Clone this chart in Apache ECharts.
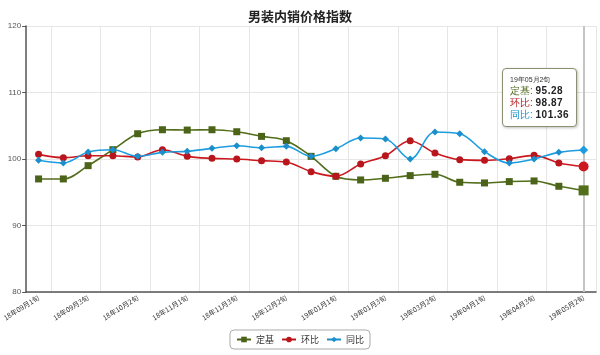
<!DOCTYPE html>
<html>
<head>
<meta charset="utf-8">
<script src="https://cdn.jsdelivr.net/npm/echarts@6/dist/echarts.min.js"></script>
<style>
  html, body { margin: 0; padding: 0; background: #fff; }
  #main { width: 600px; height: 355px; }
</style>
</head>
<body>
<div id="main"></div>
<script>
var categories = [
  '18年09月1旬', '18年09月2旬', '18年09月3旬', '18年10月1旬', '18年10月2旬', '18年10月3旬',
  '18年11月1旬', '18年11月2旬', '18年11月3旬', '18年12月1旬', '18年12月2旬', '18年12月3旬',
  '19年01月1旬', '19年01月2旬', '19年01月3旬', '19年03月1旬', '19年03月2旬', '19年03月3旬',
  '19年04月1旬', '19年04月2旬', '19年04月3旬', '19年05月1旬', '19年05月2旬'
];
var dingji = [97.0, 97.0, 99.0, 101.4, 103.8, 104.4, 104.35, 104.4, 104.1, 103.4, 102.75, 100.4,
  97.4, 96.85, 97.1, 97.5, 97.7, 96.5, 96.4, 96.6, 96.7, 95.9, 95.28];
var huanbi = [100.7, 100.2, 100.5, 100.5, 100.3, 101.4, 100.4, 100.1, 100.0, 99.75, 99.55, 98.1,
  97.4, 99.25, 100.5, 102.75, 100.9, 99.9, 99.8, 100.05, 100.55, 99.4, 98.87];
var tongbi = [99.8, 99.4, 101.05, 101.4, 100.4, 101.0, 101.15, 101.6, 102.0, 101.7, 101.9, 100.4,
  101.55, 103.15, 103.0, 100.0, 104.05, 103.8, 101.1, 99.4, 100.0, 101.0, 101.36];
var yTicks = [80, 90, 100, 110, 120];

var colors = ['#4b6419', '#b8161c', '#1b8fcb'];
var last = categories.length - 1;

var chart = echarts.init(document.getElementById('main'));

function mkSeries(name, data, symbol, size, bigSize, idx) {
  return {
    name: name,
    type: 'line',
    data: data,
    smooth: 0.35,
    symbol: symbol,
    symbolSize: function (v, p) { return p.dataIndex === last ? bigSize : size; },
    lineStyle: { width: 1.6, color: colors[idx] },
    itemStyle: { color: colors[idx] },
    emphasis: { scale: false },
    z: 3 + idx
  };
}

chart.setOption({
  animation: false,
  color: colors,
  title: {
    text: '男装内销价格指数',
    left: 'center',
    top: 5,
    textStyle: { fontSize: 13, fontWeight: 'bold', color: '#222', fontFamily: 'Noto Sans CJK SC' }
  },
  grid: { left: 21, right: 4, top: 26, bottom: 63 },
  legend: {
    bottom: 6,
    left: 'center',
    borderColor: '#aaa',
    borderWidth: 1,
    borderRadius: 4,
    padding: [5, 6],
    itemGap: 7,
    itemWidth: 14,
    itemHeight: 7,
    textStyle: { fontSize: 9, color: '#333', fontFamily: 'Noto Sans CJK SC' },
    data: ['定基', '环比', '同比']
  },
  tooltip: {
    trigger: 'axis',
    triggerOn: 'none',
    alwaysShowContent: true,
    position: [502, 68],
    backgroundColor: '#fff',
    borderColor: '#8c9070',
    borderWidth: 1.5,
    padding: [5, 7],
    extraCssText: 'border-radius:4px;box-shadow:1px 1px 3px rgba(0,0,0,0.25);',
    axisPointer: { type: 'line', z: 1, lineStyle: { color: '#c4c4c4', width: 2, type: 'solid' } },
    formatter: function (params) {
      var s = '<div style="font-size:7px;color:#333;line-height:11px;">' + params[0].name + '</div>';
      params.forEach(function (p) {
        s += '<div style="font-size:10px;line-height:12px;">' +
          '<span style="color:' + colors[p.seriesIndex] + '">' + p.seriesName + ':</span> ' +
          '<b style="color:#222;letter-spacing:0.5px;">' + p.value.toFixed(2) + '</b></div>';
      });
      return s;
    }
  },
  xAxis: {
    type: 'category',
    data: categories,
    boundaryGap: true,
    axisLine: { lineStyle: { color: '#555', width: 1.5 } },
    axisTick: {
      interval: function (i) { return i % 2 === 1; },
      length: 4,
      lineStyle: { color: '#555' }
    },
    splitLine: {
      show: true,
      interval: function (i) { return i % 2 === 1; },
      lineStyle: { color: '#e6e6e6' }
    },
    axisLabel: {
      interval: 1,
      rotate: 32,
      fontSize: 7,
      color: '#333',
      margin: 5,
      fontFamily: 'Noto Sans CJK SC'
    }
  },
  yAxis: {
    type: 'value',
    min: yTicks[0],
    max: yTicks[yTicks.length - 1],
    interval: 10,
    axisLine: { show: true, lineStyle: { color: '#555', width: 1.5 } },
    axisTick: { show: true, length: 4, lineStyle: { color: '#555' } },
    splitLine: { lineStyle: { color: '#e6e6e6' } },
    axisLabel: { fontSize: 8, color: '#555', margin: 5 }
  },
  series: [
    mkSeries('定基', dingji, 'rect', 7, 10, 0),
    mkSeries('环比', huanbi, 'circle', 7, 10, 1),
    mkSeries('同比', tongbi, 'diamond', 7, 9, 2)
  ]
});

chart.dispatchAction({ type: 'showTip', seriesIndex: 0, dataIndex: last });
</script>
</body>
</html>
